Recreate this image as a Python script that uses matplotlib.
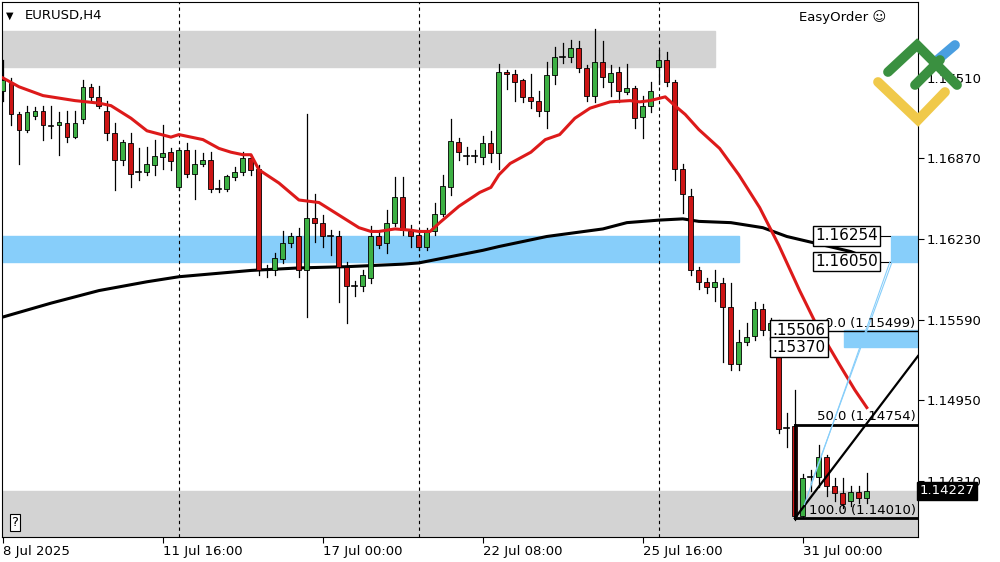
import matplotlib
matplotlib.use("Agg")
import matplotlib.pyplot as plt
from matplotlib.patches import Rectangle
from matplotlib.lines import Line2D

opens = [1.1741,1.1747,1.1722,1.1710,1.1721,1.1725,1.1713,1.1714,1.1715,1.1704,
 1.1718,1.1744,1.1736,1.1725,1.1707,1.1686,1.1699,1.1676,1.1676,1.1682,
 1.1688,1.1692,1.1664,1.1694,1.1675,1.1683,1.1686,1.1663,1.1663,1.1672,
 1.1676,1.1687,1.1679,1.1598,1.1598,1.1607,1.1620,1.1625,1.1598,1.1640,
 1.1636,1.1625,1.1625,1.1601,1.1586,1.1586,1.1592,1.1625,1.1620,1.1636,
 1.1656,1.1629,1.1626,1.1617,1.1629,1.1643,1.1664,1.1700,1.1689,1.1689,
 1.1688,1.1699,1.1691,1.1756,1.1754,1.1749,1.1736,1.1733,1.1725,1.1753,
 1.1768,1.1768,1.1775,1.1759,1.1737,1.1764,1.1748,1.1756,1.1740,1.1743,
 1.1720,1.1729,1.1760,1.1765,1.1748,1.1679,1.1657,1.1598,1.1589,1.1585,
 1.1588,1.1569,1.1524,1.1541,1.1546,1.1567,1.1551,1.1556,1.1473,1.1474,
 1.1403,1.1434,1.1434,1.1450,1.1427,1.1421,1.1415,1.1422,1.1417]
closes = [1.1749,1.1722,1.1710,1.1724,1.1725,1.1714,1.1713,1.1716,1.1704,1.1715,
 1.1744,1.1736,1.1729,1.1707,1.1686,1.1700,1.1675,1.1676,1.1683,1.1689,
 1.1691,1.1685,1.1694,1.1675,1.1683,1.1686,1.1663,1.1663,1.1673,1.1676,
 1.1687,1.1678,1.1598,1.1598,1.1608,1.1620,1.1625,1.1598,1.1640,1.1636,
 1.1625,1.1625,1.1601,1.1586,1.1586,1.1594,1.1625,1.1618,1.1636,1.1656,
 1.1630,1.1625,1.1617,1.1629,1.1643,1.1665,1.1701,1.1692,1.1689,1.1689,
 1.1699,1.1691,1.1756,1.1754,1.1748,1.1736,1.1733,1.1725,1.1753,1.1768,
 1.1768,1.1775,1.1759,1.1737,1.1764,1.1752,1.1755,1.1741,1.1743,1.1719,
 1.1729,1.1741,1.1765,1.1748,1.1679,1.1659,1.1598,1.1589,1.1585,1.1589,
 1.1569,1.1524,1.1541,1.1545,1.1567,1.1551,1.1556,1.1472,1.1473,1.1403,
 1.1433,1.1434,1.1450,1.1427,1.1421,1.1412,1.1422,1.1417,1.1423]
highs = [1.1765,1.1751,1.1724,1.1729,1.1728,1.1729,1.1729,1.1724,1.1725,1.1725,
 1.1749,1.1746,1.1745,1.1733,1.1715,1.1702,1.1707,1.1695,1.1696,1.1702,
 1.1714,1.1695,1.1695,1.1699,1.1694,1.1691,1.1692,1.1670,1.1674,1.1680,
 1.1692,1.1690,1.1682,1.1602,1.1612,1.1629,1.1628,1.1632,1.1722,1.1659,
 1.1642,1.1630,1.1629,1.1605,1.1590,1.1598,1.1633,1.1629,1.1646,1.1672,
 1.1672,1.1634,1.1630,1.1632,1.1652,1.1674,1.1718,1.1703,1.1696,1.1694,
 1.1705,1.1709,1.1762,1.1757,1.1757,1.1750,1.1754,1.1741,1.1764,1.1776,
 1.1779,1.1781,1.1780,1.1761,1.1790,1.1780,1.1761,1.1760,1.1762,1.1745,
 1.1737,1.1748,1.1773,1.1772,1.1749,1.1683,1.1663,1.1601,1.1592,1.1598,
 1.1592,1.1588,1.1551,1.1556,1.1573,1.1571,1.1560,1.1559,1.1485,1.1503,
 1.1436,1.1439,1.1459,1.1451,1.1433,1.1433,1.1427,1.1427,1.1437]
lows = [1.1733,1.1714,1.1683,1.1708,1.1718,1.1702,1.1703,1.1690,1.1700,1.1703,
 1.1715,1.1733,1.1727,1.1702,1.1662,1.1682,1.1664,1.1670,1.1674,1.1674,
 1.1679,1.1678,1.1662,1.1672,1.1655,1.1681,1.1660,1.1660,1.1661,1.1670,
 1.1674,1.1674,1.1594,1.1593,1.1594,1.1604,1.1617,1.1593,1.1561,1.1621,
 1.1617,1.1610,1.1573,1.1556,1.1578,1.1582,1.1588,1.1616,1.1612,1.1633,
 1.1626,1.1617,1.1614,1.1614,1.1626,1.1641,1.1658,1.1686,1.1683,1.1684,
 1.1683,1.1684,1.1679,1.1742,1.1733,1.1732,1.1727,1.1721,1.1711,1.1746,
 1.1763,1.1764,1.1756,1.1733,1.1732,1.1744,1.1737,1.1732,1.1738,1.1711,
 1.1703,1.1724,1.1746,1.1745,1.1670,1.1644,1.1594,1.1583,1.1580,1.1574,
 1.1525,1.1519,1.1519,1.1539,1.1543,1.1547,1.1539,1.1469,1.1458,1.1400,
 1.1401,1.1423,1.1426,1.1419,1.1415,1.1409,1.1411,1.1413,1.1413]

ma_fast_idx = [0,2,5,9,12,13.5,16,18,21,22,25,27,28.5,30,31,32,34.5,37,39.5,42,44.5,46,47,49,51,52,53.4,
 54.6,57,59.6,61,62,63.4,66,67.8,69.6,71.5,73.4,75.9,78.4,79.6,80.9,82.8,84,85.3,87,89.6,92,94.6,97,99.6,
 102,104.6,106.5,108]
ma_fast = [1.1751,1.1744,1.1737,1.1733,1.1731,1.1729,1.1719,1.1709,1.1704,1.1706,1.1702,1.1695,1.1692,1.1690,
 1.1690,1.1678,1.16675,1.1654,1.1652,1.1642,1.1632,1.1629,1.1629,1.1631,1.1630,1.1629,1.1629,1.1636,1.1649,
 1.1660,1.1664,1.1674,1.1683,1.1692,1.1702,1.1706,1.1719,1.1727,1.1732,1.1733,1.1732,1.1733,1.1736,1.1729,
 1.1722,1.1710,1.1695,1.1674,1.1648,1.1618,1.1582,1.1551,1.1523,1.1503,1.1489]
ma_slow_idx = [0,6,12,18,22,31,37,43,50,52,56,60,62,68,75,78,82,85,87,91,95,98,102,106,108]
ma_slow = [1.1561,1.1572,1.1582,1.1589,1.1593,1.1598,1.1600,1.1601,1.1603,1.1604,1.1609,1.1614,1.1617,
 1.1625,1.1631,1.1636,1.1638,1.1639,1.1637,1.1636,1.1632,1.1625,1.1619,1.1613,1.1608]

yticks = [1.17510, 1.16870, 1.16230, 1.15590, 1.14950, 1.14310]
xtick_idx = [0, 20, 40, 60, 80, 100]
xtick_labels = ["8 Jul 2025", "11 Jul 16:00", "17 Jul 00:00", "22 Jul 08:00", "25 Jul 16:00", "31 Jul 00:00"]
sep_idx = [22, 52, 82]
fib_high, fib_mid, fib_low = 1.15499, 1.14754, 1.14010
zone_hi = [1.16254, 1.16050]
zone_mid = [1.15506, 1.15370]
last_price = 1.14227

fig = plt.figure(figsize=(10, 5.62), dpi=100)
ax = fig.add_axes([0.002, 25/562, 0.916, 535/562])
ymin, ymax = 1.13861, 1.18114
xmin, xmax = -0.125, 114.4
ax.set_xlim(xmin, xmax); ax.set_ylim(ymin, ymax)

ax.add_patch(Rectangle((xmin, 1.1760), 89 - xmin, 0.0028, color="#d3d3d3", zorder=0))
ax.add_patch(Rectangle((xmin, 1.16050), 92 - xmin, 1.16254 - 1.16050, color="#87cefa", zorder=0))
ax.add_patch(Rectangle((111, 1.16050), xmax - 111, 1.16254 - 1.16050, color="#87cefa", zorder=0))
ax.add_patch(Rectangle((105.2, zone_mid[1]), xmax - 105.2, zone_mid[0] - zone_mid[1], color="#87cefa", zorder=0))
ax.add_patch(Rectangle((xmin, ymin), xmax - xmin, last_price - ymin, color="#d3d3d3", zorder=0))

for s in sep_idx:
    ax.axvline(s, color="black", lw=0.8, ls=(0, (3, 3)), zorder=1)

ax.plot(ma_slow_idx, ma_slow, color="black", lw=2.2, zorder=2)

w = 0.62
for i, (o, c, h, l) in enumerate(zip(opens, closes, highs, lows)):
    ax.plot([i, i], [l, h], color="black", lw=0.9, zorder=3)
    col = "#3cb043" if c >= o else "#cc1414"
    lo, hi = min(o, c), max(o, c)
    if hi - lo < 0.00004:
        ax.plot([i - w/2, i + w/2], [o, o], color="black", lw=1.2, zorder=4)
    else:
        ax.add_patch(Rectangle((i - w/2, lo), w, hi - lo, facecolor=col, edgecolor="black", lw=0.6, zorder=4))

ax.plot(ma_fast_idx, ma_fast, color="#dd1a1a", lw=2.2, zorder=5, solid_joinstyle="round")

ax.plot([96.6, xmax], [fib_high, fib_high], color="black", lw=1.0, zorder=6)
ax.plot([99, xmax], [fib_mid, fib_mid], color="black", lw=2, zorder=6)
ax.plot([99, xmax], [fib_low, fib_low], color="black", lw=2, zorder=6)
ax.plot([99, 99], [fib_low, fib_mid], color="black", lw=2, zorder=6)
fs = 9.5
ax.text(114.1, fib_high + 0.0001, "0.0 (1.15499)", ha="right", va="bottom", fontsize=fs, zorder=7)
ax.text(114.1, fib_mid + 0.0001, "50.0 (1.14754)", ha="right", va="bottom", fontsize=fs, zorder=7)
ax.text(114.1, fib_low + 0.0001, "100.0 (1.14010)", ha="right", va="bottom", fontsize=fs, zorder=7)
ax.plot([99, xmax], [fib_low, 1.1530], color="black", lw=1.6, zorder=6)
ax.plot([100.2, 110.9], [1.1412, zone_hi[1]], color="#87cefa", lw=0.8, zorder=6)
ax.plot([101, 112], [1.1428, zone_hi[0] - 0.0006], color="#87cefa", lw=0.8, zorder=6)

bbox = dict(boxstyle="square,pad=0.15", fc="white", ec="black", lw=1)
ax.text(101.5, zone_hi[0], "1.16254", ha="left", va="center", fontsize=11, bbox=bbox, zorder=8)
ax.text(101.5, zone_hi[1], "1.16050", ha="left", va="center", fontsize=11, bbox=bbox, zorder=8)
ax.plot([109.8, 110.9], [zone_hi[0], zone_hi[0]], color="black", lw=0.8)
ax.plot([109.8, 110.9], [zone_hi[1], zone_hi[1]], color="black", lw=0.8)
ax.text(96.2, zone_mid[0], ".15506", ha="left", va="center", fontsize=11, bbox=bbox, zorder=8)
ax.text(96.2, zone_mid[1], ".15370", ha="left", va="center", fontsize=11, bbox=bbox, zorder=8)

ax.yaxis.tick_right()
ax.set_yticks(yticks)
ax.set_yticklabels([f"{v:.5f}" for v in yticks], fontsize=fs)
ax.set_xticks(xtick_idx)
ax.set_xticklabels(xtick_labels, fontsize=fs, ha="left")
ax.tick_params(axis="both", length=4, width=0.8, pad=2)
for sp in ax.spines.values():
    sp.set_linewidth(0.8)
ax.text(xmax + 0.2, last_price, f"{last_price:.5f}", color="white", fontsize=fs, va="center", ha="left",
        bbox=dict(boxstyle="square,pad=0.2", fc="black", ec="black"), clip_on=False, zorder=9)

fig.text(0.006, 0.972, "▼", fontsize=7, va="center")
fig.text(0.025, 0.972, "EURUSD,H4", fontsize=fs, va="center")
fig.text(0.886, 0.97, "EasyOrder ☺", fontsize=fs, va="center", ha="right")
fig.text(0.015, 0.07, "?", fontsize=9.5, va="center", ha="center",
         bbox=dict(boxstyle="square,pad=0.15", fc="white", ec="black", lw=0.8))

def L(xs, ys, c):
    fig.add_artist(Line2D([x/1000 for x in xs], [1 - y/562 for y in ys], color=c, lw=7,
                          solid_capstyle="round", solid_joinstyle="miter", zorder=20))
L([878, 918, 945], [82, 120, 92], "#f0c94a")
L([935, 955], [62, 45], "#4a9ee0")
L([888, 917, 957], [72, 45, 85], "#3a9040")
L([915, 940], [85, 60], "#3a9040")

fig.savefig("out.png", dpi=100)
